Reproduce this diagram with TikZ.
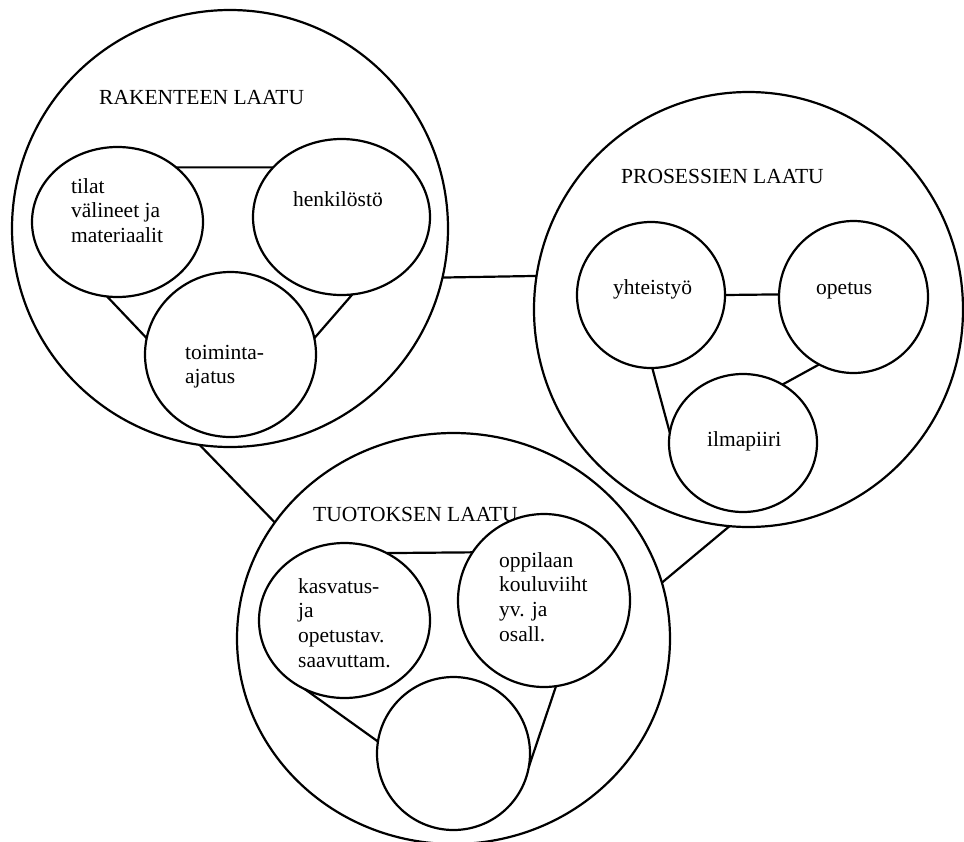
\documentclass[tikz,border=0pt]{standalone}
\usepackage{fontspec}
\setmainfont{Liberation Serif}
\usetikzlibrary{shapes.geometric}
\begin{document}
\begin{tikzpicture}[x=1pt,y=-1pt,
  ell/.style={draw, ellipse, inner sep=0pt, outer sep=0pt, line width=2.2pt},
  conn/.style={line width=2.2pt},
  lbl/.style={anchor=base west, inner sep=0pt, font=\fontsize{21.5}{24.8}\selectfont}]
\useasboundingbox (0,0) rectangle (964,841);
% big circles
\node[ell, minimum width=436pt, minimum height=437pt] (rak) at (230,228.5) {};
\node[ell, minimum width=429pt, minimum height=435pt] (pros) at (748.5,309.5) {};
\node[ell, minimum width=433pt, minimum height=411pt] (tuo) at (453.5,638.5) {};
% inner circles
\node[ell, minimum width=171pt, minimum height=150pt] (tilat) at (117.5,222) {};
\node[ell, minimum width=177pt, minimum height=156pt] (henk) at (341.5,217) {};
\node[ell, minimum width=171pt, minimum height=165pt] (toim) at (230.5,354.5) {};
\node[ell, minimum width=148pt, minimum height=146pt] (yht) at (651,295) {};
\node[ell, minimum width=149pt, minimum height=152pt] (ope) at (853.5,297) {};
\node[ell, minimum width=148pt, minimum height=138pt] (ilma) at (743,443) {};
\node[ell, minimum width=171pt, minimum height=155pt] (kasv) at (344.5,620.5) {};
\node[ell, minimum width=172pt, minimum height=173pt] (opp) at (544,600.5) {};
\node[ell, minimum width=153pt, minimum height=153pt] (tyhja) at (453.5,753.5) {};
% texts
\node[lbl] (rakt) at (99,104) {RAKENTEEN LAATU};
\node[lbl] (prost) at (621,183) {PROSESSIEN LAATU};
\node[lbl] (tuot) at (313,521) {TUOTOKSEN LAATU};
\node[lbl] (tilatt) at (71,193) {\begin{tabular}[t]{@{}l@{}}tilat\\välineet ja\\materiaalit\end{tabular}};
\node[lbl] (henkt) at (293,206) {henkilöstö};
\node[lbl] (toimt) at (185,359) {\begin{tabular}[t]{@{}l@{}}toiminta-\\ajatus\end{tabular}};
\node[lbl] (yhtt) at (613,294) {yhteistyö};
\node[lbl] (opet) at (816,294) {opetus};
\node[lbl] (ilmat) at (707,446) {ilmapiiri};
\node[lbl] (kasvt) at (298,593) {\begin{tabular}[t]{@{}l@{}}kasvatus-\\ja\\opetustav.\\saavuttam.\end{tabular}};
\node[lbl] (oppt) at (499,567) {\begin{tabular}[t]{@{}l@{}}oppilaan\\kouluviiht\\yv. ja\\osall.\end{tabular}};
% connectors inside RAKENTEEN LAATU
\draw[conn] (tilat.43) -- (henk.144);
\draw[conn] (tilat.262) -- (toim.169);
\draw[conn] (henk.278) -- (toim.11);
% connectors inside PROSESSIEN LAATU
\draw[conn] (yht.0) -- (ope.178.5);
\draw[conn] (yht.271) -- (ilma.172);
\draw[conn] (ope.243) -- (ilma.56);
% connectors inside TUOTOKSEN LAATU
\draw[conn] (kasv.58) -- (opp.146.5);
\draw[conn] (kasv.240) -- (tyhja.171);
\draw[conn] (opp.278) -- (tyhja.350);
% connectors between big circles
\draw[conn] (rak.347) -- (pros.171.3);
\draw[conn] (rak.262.7) -- (tuo.147);
\draw[conn] (tuo.15) -- (pros.265.7);
\end{tikzpicture}
\end{document}
